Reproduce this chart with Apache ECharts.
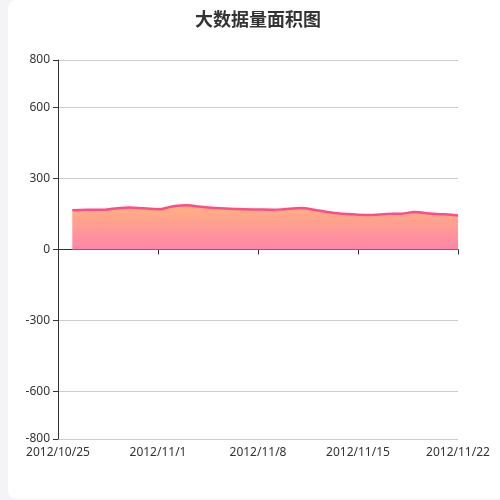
<!DOCTYPE html>
<html>
<head>
<meta charset="utf-8">
<script src="https://cdn.jsdelivr.net/npm/echarts@6/dist/echarts.min.js"></script>
<style>
    html, body { margin: 0; padding: 0; background: #f3f3f8; overflow: hidden; }
    #main { position: absolute; left: 8px; top: 0; width: 500px; height: 499px; background: #fff; border-radius: 8px; }
</style>
</head>
<body>
<div id="main"></div>
<script>
// 日期
const dates = [
    '2012/10/25', '2012/10/26', '2012/10/27', '2012/10/28', '2012/10/29', '2012/10/30', '2012/10/31',
    '2012/11/1', '2012/11/2', '2012/11/3', '2012/11/4', '2012/11/5', '2012/11/6', '2012/11/7',
    '2012/11/8', '2012/11/9', '2012/11/10', '2012/11/11', '2012/11/12', '2012/11/13', '2012/11/14',
    '2012/11/15', '2012/11/16', '2012/11/17', '2012/11/18', '2012/11/19', '2012/11/20', '2012/11/21',
    '2012/11/22'
];
const values = [
    null, 166, 168, 168, 173, 177, 174,
    170, 182, 187, 180, 175, 172, 170,
    169, 168, 171, 175, 167, 157, 151,
    147, 146, 150, 151, 158, 152, 149,
    144
];
const yTicks = [-800, -600, -300, 0, 300, 600, 800];

const option = {
    textStyle: { fontFamily: 'Noto Sans' },
    title: {
        text: '大数据量面积图',
        left: 'center',
        top: 5,
        textStyle: {
            color: '#333',
            fontSize: 18,
            fontWeight: 'bold',
            fontFamily: 'Noto Sans CJK SC'
        }
    },
    grid: { left: 50, right: 50, top: 60, bottom: 60 },
    xAxis: [
        {
            type: 'category',
            boundaryGap: false,
            data: dates,
            axisLine: { onZero: true, lineStyle: { color: '#333' } },
            axisTick: { interval: 6, lineStyle: { color: '#333' } },
            axisLabel: { show: false }
        },
        {
            type: 'category',
            boundaryGap: false,
            position: 'bottom',
            data: dates,
            axisLine: { show: false, onZero: false },
            axisTick: { show: false },
            axisLabel: { interval: 6, color: '#333', fontSize: 12, fontFamily: 'Noto Sans' }
        }
    ],
    yAxis: {
        type: 'value',
        min: -800,
        max: 800,
        axisLine: { show: true, lineStyle: { color: '#333' } },
        axisTick: { show: true, customValues: yTicks, lineStyle: { color: '#333' } },
        axisLabel: { customValues: yTicks, color: '#333', fontSize: 12, fontFamily: 'Noto Sans' },
        splitLine: { lineStyle: { color: '#ccc' } }
    },
    series: [
        {
            name: '模拟数据',
            type: 'line',
            smooth: true,
            symbol: 'none',
            sampling: 'average',
            xAxisIndex: 0,
            lineStyle: { color: 'rgb(255, 75, 135)', width: 2.5 },
            itemStyle: { color: 'rgb(255, 75, 135)' },
            areaStyle: {
                opacity: 1,
                color: new echarts.graphic.LinearGradient(0, 0, 0, 1, [
                    { offset: 0, color: 'rgb(255, 178, 128)' },
                    { offset: 1, color: 'rgb(255, 132, 168)' }
                ])
            },
            data: values
        }
    ]
};

const myChart = echarts.init(document.getElementById('main'));
myChart.setOption(option);
</script>
</body>
</html>
